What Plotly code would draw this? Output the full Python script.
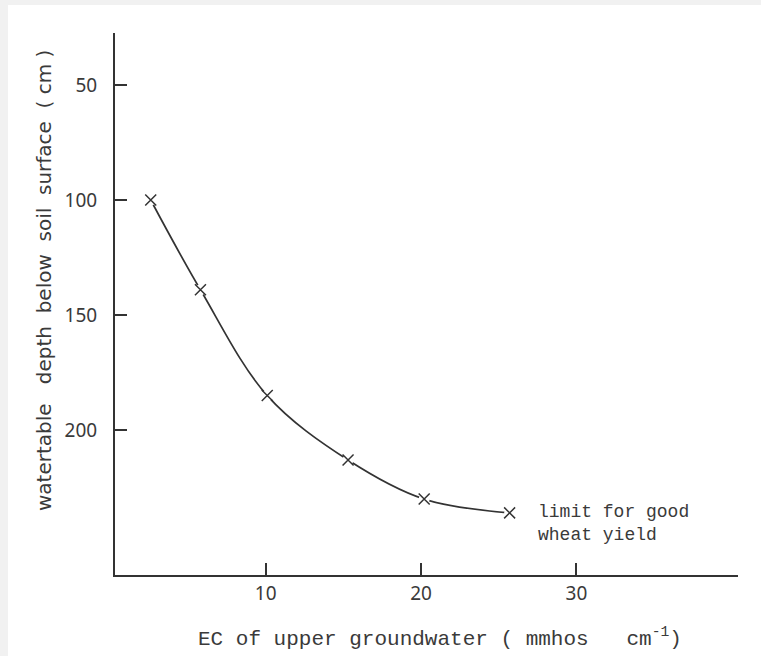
import plotly.graph_objects as go

# EC of the upper groundwater (mmhos/cm) and the matching watertable depth (cm)
ec_values = [2.6, 5.8, 10.1, 15.3, 20.2, 25.7]
depth_values = [100, 139, 185, 213, 230, 236]

x_ticks = [10, 20, 30]
y_ticks = [50, 100, 150, 200]

x_title = "EC of upper groundwater ( mmhos   cm<sup>-1</sup>)"
y_title = "watertable   depth  below  soil  surface  ( cm )"
note_text = "limit for good<br>wheat yield"

ink = "#333333"
text_col = "#3a3a3a"
W, H = 761, 656
L, R, T, B = 115, 23, 33, 81

# pixel -> paper coordinate helpers
px = lambda p: (p - L) / (W - L - R)
py = lambda p: (H - B - p) / (H - T - B)

fig = go.Figure()

# smooth curve through the measured points
fig.add_trace(go.Scatter(
    x=ec_values, y=depth_values, mode="lines",
    line=dict(color=ink, width=1.7, shape="spline", smoothing=1.0),
    hoverinfo="skip", showlegend=False))

# small white gaps around each cross
fig.add_trace(go.Scatter(
    x=ec_values, y=depth_values, mode="markers",
    marker=dict(symbol="circle", size=11, color="white", line=dict(width=0)),
    hoverinfo="skip", showlegend=False))

# cross markers
fig.add_trace(go.Scatter(
    x=ec_values, y=depth_values, mode="markers",
    marker=dict(symbol="x-thin", size=11, color=ink, line=dict(color=ink, width=1.5)),
    showlegend=False))

fig.add_annotation(
    x=ec_values[-1], y=depth_values[-1], xref="x", yref="y",
    text=note_text, showarrow=False, align="left",
    xanchor="left", yanchor="top", xshift=26, yshift=13,
    font=dict(family="Liberation Mono", size=18, color=text_col))

# axis titles
fig.add_annotation(
    x=px(196), y=py(637), xref="paper", yref="paper",
    text=x_title, showarrow=False, xanchor="left", yanchor="middle",
    font=dict(family="Liberation Mono", size=21, color=text_col))
fig.add_annotation(
    x=px(44), y=py(281), xref="paper", yref="paper",
    text=y_title, showarrow=False, textangle=-90,
    xanchor="center", yanchor="middle",
    font=dict(family="DejaVu Sans", size=20, color=text_col))

# scanned-page border tint on the top and left edges
fig.add_shape(type="rect", xref="paper", yref="paper", layer="below",
              x0=px(-5), x1=px(8), y0=py(H + 5), y1=py(-5),
              fillcolor="#f1f1f1", line=dict(width=0))
fig.add_shape(type="rect", xref="paper", yref="paper", layer="below",
              x0=px(-5), x1=px(W + 5), y0=py(5), y1=py(-5),
              fillcolor="#f1f1f1", line=dict(width=0))

fig.update_layout(
    width=W, height=H,
    margin=dict(l=L, r=R, t=T, b=B),
    paper_bgcolor="white", plot_bgcolor="white",
    font=dict(family="Noto Sans", color=text_col),
    xaxis=dict(
        range=[0.3, 40.4], tickvals=x_ticks, ticks="inside", ticklen=12,
        tickwidth=1.5, tickcolor=ink, showline=True, linecolor=ink, linewidth=2,
        showgrid=False, zeroline=False, ticklabelstandoff=0,
        tickfont=dict(family="Noto Sans", size=19, color=text_col)),
    yaxis=dict(
        range=[263, 27.4], tickvals=y_ticks, ticks="inside", ticklen=12,
        tickwidth=1.5, tickcolor=ink, showline=True, linecolor=ink, linewidth=2,
        showgrid=False, zeroline=False, ticklabelstandoff=12,
        tickfont=dict(family="Noto Sans", size=19, color=text_col)),
)

fig.write_html("out.html")
